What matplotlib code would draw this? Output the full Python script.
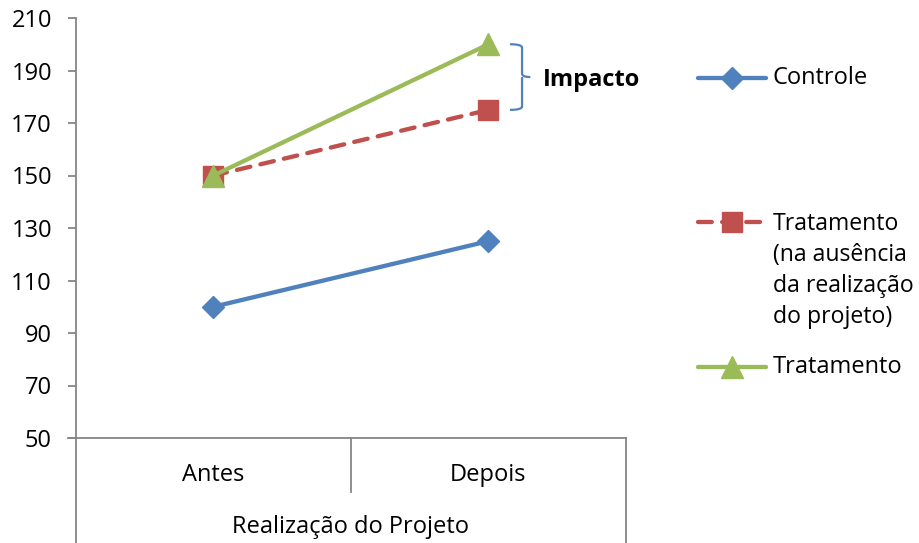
import matplotlib
matplotlib.use("Agg")
import matplotlib.pyplot as plt
from matplotlib.lines import Line2D
from matplotlib.path import Path
from matplotlib.patches import PathPatch
import matplotlib.transforms as mtransforms

plt.rcParams['font.family'] = ['Open Sans', 'DejaVu Sans']

# Data
categories = ["Antes", "Depois"]
group_label = "Realização do Projeto"
controle = [100, 125]
contrafactual = [150, 175]
tratamento = [150, 200]
series_labels = ["Controle",
                 "Tratamento\n(na ausência\nda realização\ndo projeto)",
                 "Tratamento"]
yticks = [50, 70, 90, 110, 130, 150, 170, 190, 210]
impacto_label = "Impacto"

BLUE = "#4F81BD"
RED = "#C0504D"
GREEN = "#9BBB59"
AXIS = "#868686"
FS = 17
LW = 3.1
MS_D, MS_S, MS_T = 11.5, 14, 15.5
DASH = (3.2, 2.4)

W, H = 920, 543
fig = plt.figure(figsize=(W / 100, H / 100), dpi=100)
# axes box in pixels: left 76, right 626, top 18, bottom 438
ax = fig.add_axes([76 / W, 1 - 438 / H, 550 / W, 420 / H])

x = list(range(len(categories)))
ax.plot(x, controle, color=BLUE, lw=LW, marker="D", ms=MS_D, zorder=3,
        solid_capstyle="round")
ax.plot(x, contrafactual, color=RED, lw=LW, marker="s", ms=MS_S, zorder=4,
        dashes=DASH, dash_capstyle="round")
ax.plot(x, tratamento, color=GREEN, lw=LW, marker="^", ms=MS_T, zorder=5,
        solid_capstyle="round")

ax.set_xlim(-0.5, len(categories) - 0.5)
ax.set_ylim(yticks[0], yticks[-1])
ax.set_yticks(yticks)
ax.set_yticklabels([str(v) for v in yticks], fontsize=FS)
ax.set_xticks([])
for s in ["top", "right"]:
    ax.spines[s].set_visible(False)
for s in ["left", "bottom"]:
    ax.spines[s].set_color(AXIS)
    ax.spines[s].set_linewidth(1.3)
ax.tick_params(axis="y", direction="out", length=5.8, width=1.3, color=AXIS,
               pad=11.5)

# Two-level category axis below the plot
lk = dict(color=AXIS, lw=1.3, transform=ax.transAxes, clip_on=False)
ax.add_line(Line2D([-0.015, 0], [0, 0], **lk))
ax.add_line(Line2D([0, 0], [0, -0.25], **lk))
ax.add_line(Line2D([1, 1], [0, -0.25], **lk))
ax.add_line(Line2D([0.5, 0.5], [0, -0.128], **lk))
for i, c in enumerate(categories):
    ax.text((i + 0.5) / len(categories), -0.087, c, transform=ax.transAxes,
            ha="center", va="center", fontsize=FS)
ax.text(0.5, -0.212, group_label, transform=ax.transAxes,
        ha="center", va="center", fontsize=FS)

# Curly brace marking the impact between the two treatment lines
bt = mtransforms.blended_transform_factory(ax.transAxes, ax.transData)
ytop, ybot = tratamento[1], contrafactual[1]
ymid = (ytop + ybot) / 2
x0, x1, x2 = 0.789, 0.811, 0.826
r = 1.3
verts = [(x0, ytop), (x1, ytop), (x1, ytop - r),
         (x1, ymid + r), (x1, ymid), (x2, ymid),
         (x1, ymid), (x1, ymid - r),
         (x1, ybot + r), (x1, ybot), (x0, ybot)]
codes = [Path.MOVETO, Path.CURVE3, Path.CURVE3,
         Path.LINETO, Path.CURVE3, Path.CURVE3,
         Path.MOVETO, Path.LINETO,
         Path.LINETO, Path.CURVE3, Path.CURVE3]
ax.add_patch(PathPatch(Path(verts, codes), fill=False, edgecolor=BLUE,
                       lw=1.6, transform=bt, clip_on=False))
ax.text(0.848, ymid - 1.2, impacto_label, transform=bt, ha="left",
        va="center", fontsize=FS, fontweight="bold", clip_on=False)


# Legend drawn at fixed pixel positions
def fx(px):
    return px / W


def fy(py):
    return 1 - py / H


legend_items = [
    (BLUE, "D", MS_D, None, 78, series_labels[0]),
    (RED, "s", MS_S, DASH, 222, series_labels[1]),
    (GREEN, "^", MS_T, None, 367, series_labels[2]),
]
for color, mk, ms, dashes, py, label in legend_items:
    kw = dict(color=color, lw=LW, transform=fig.transFigure,
              solid_capstyle="round", dash_capstyle="round")
    if dashes:
        kw["dashes"] = dashes
    fig.add_artist(Line2D([fx(698), fx(766)], [fy(py), fy(py)], **kw))
    fig.add_artist(Line2D([fx(732)], [fy(py)], marker=mk, ms=ms, color=color,
                          lw=0, transform=fig.transFigure))
    if "\n" in label:
        fig.text(fx(773), fy(py - 10), label, ha="left", va="top",
                 fontsize=16.6, linespacing=1.38)
    else:
        fig.text(fx(773), fy(py), label, ha="left", va="center", fontsize=FS)

fig.savefig("out.png", dpi=100)
